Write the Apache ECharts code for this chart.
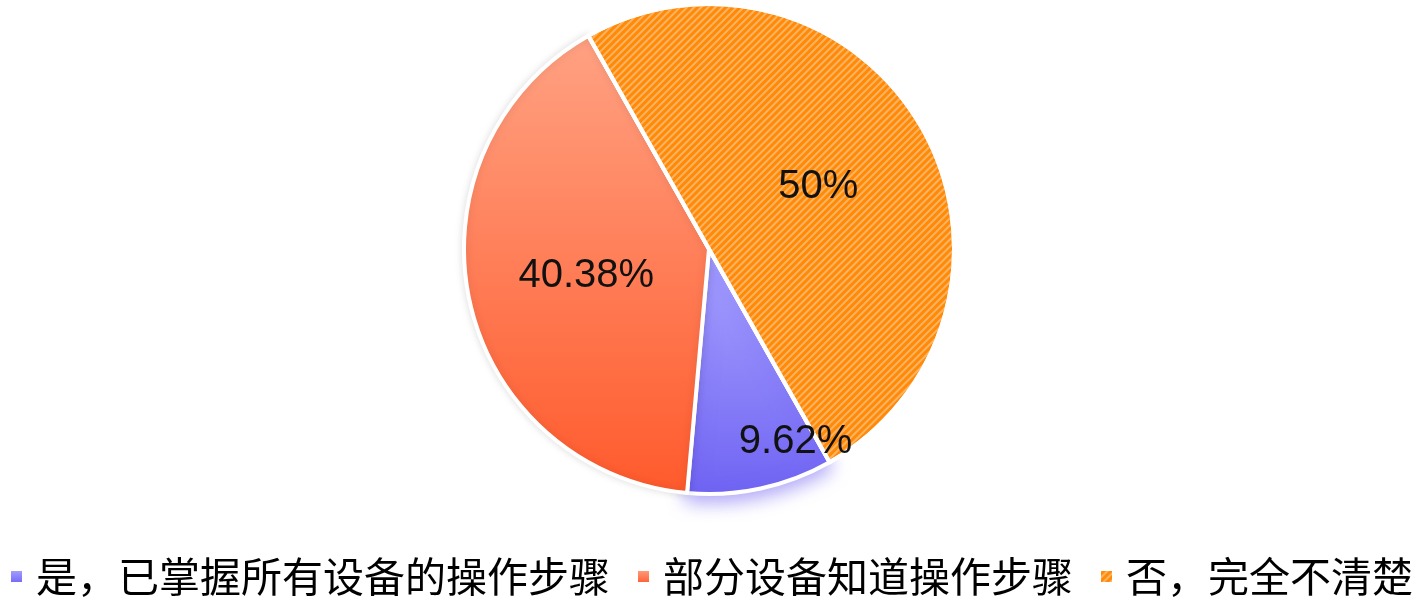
<!DOCTYPE html>
<html>
<head>
<meta charset="utf-8">
<script src="https://cdn.jsdelivr.net/npm/echarts@6/dist/echarts.min.js"></script>
<style>
  html, body { margin: 0; padding: 0; background: #fff; }
  #chart { width: 1426px; height: 604px; }
</style>
</head>
<body>
<div id="chart"></div>
<script>
// answers, in legend order
const categories = ['是，已掌握所有设备的操作步骤', '部分设备知道操作步骤', '否，完全不清楚'];
const percents = [9.62, 40.38, 50];
const labelTexts = ['9.62%', '40.38%', '50%'];

const grad = (top, bottom) => new echarts.graphic.LinearGradient(0, 0, 0, 1, [
    { offset: 0, color: top },
    { offset: 1, color: bottom }
]);

const styles = [
    {
        itemStyle: {
            color: grad('#aaa5ff', '#6f63f3'),
            shadowColor: 'rgba(110, 95, 240, 0.55)',
            shadowBlur: 18,
            shadowOffsetY: 6
        },
        label: { offset: [60, 70] }
    },
    {
        itemStyle: {
            color: grad('#ffa283', '#ff5a2c'),
            shadowColor: 'rgba(0, 0, 0, 0.12)',
            shadowBlur: 8
        }
    },
    {
        itemStyle: {
            color: '#ff8a08',
            shadowBlur: 0,
            shadowColor: 'transparent',
            decal: {
                symbol: 'rect',
                symbolSize: 1,
                dashArrayX: [1, 0],
                dashArrayY: [2, 3],
                rotation: -Math.PI / 4,
                color: 'rgba(255, 190, 120, 0.8)'
            }
        }
    }
];

const data = categories.map((name, i) => Object.assign({
    name: name,
    value: percents[i],
    labelText: labelTexts[i]
}, styles[i]));

let myChart = echarts.init(document.getElementById('chart'));
const option = {
    animation: false,
    legend: {
        bottom: 2,
        left: 4,
        icon: 'rect',
        itemWidth: 13,
        itemHeight: 13,
        itemGap: 26,
        textStyle: {
            fontFamily: 'Noto Sans CJK SC',
            fontSize: 41,
            color: '#000',
            padding: [0, 0, 0, 8]
        },
        data: categories
    },
    series: [
        {
            type: 'pie',
            center: [709, 249],
            radius: 245,
            startAngle: -60.5,
            clockwise: true,
            itemStyle: {
                borderColor: '#fff',
                borderWidth: 4
            },
            label: {
                position: 'inside',
                fontFamily: 'Liberation Sans',
                fontSize: 40,
                color: '#111',
                formatter: p => p.data.labelText
            },
            labelLine: { show: false },
            emphasis: { disabled: true },
            data: data
        }
    ]
};
myChart.setOption(option);
</script>
</body>
</html>
